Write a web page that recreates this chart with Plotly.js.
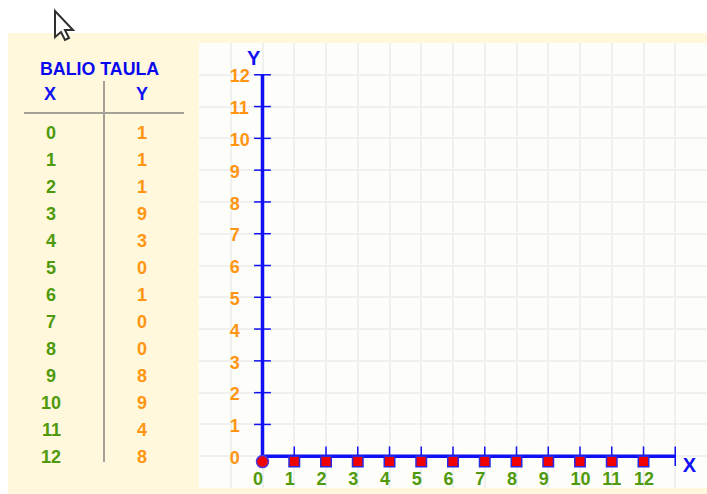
<!DOCTYPE html>
<html><head><meta charset="utf-8">
<script src="https://cdn.plot.ly/plotly-3.0.1.min.js"></script>
<style>html,body{margin:0;padding:0;background:#fff}#c{width:707px;height:494px}</style>
</head><body><div id="c"></div>
<script>
const tableTitle = "BALIO TAULA";
const tableX = [0,1,2,3,4,5,6,7,8,9,10,11,12];
const tableY = [1,1,1,9,3,0,1,0,0,8,9,4,8];
const xTicks = [0,1,2,3,4,5,6,7,8,9,10,11,12];
const yTicks = [0,1,2,3,4,5,6,7,8,9,10,11,12];
const pointSquareX = [1,2,3,4,5,6,7,8,9,10,11,12];
const pointSquareY = [-0.17,-0.17,-0.17,-0.17,-0.17,-0.17,-0.17,-0.17,-0.17,-0.17,-0.17,-0.17];
const pointRoundX = [0];
const pointRoundY = [-0.17];
const axisEndX = 13;
const axisEndY = 12;

const W = 707, H = 494;
const BLUE = "#1010f5", GREEN = "#4f9a0c", ORANGE = "#ff9512", GREY = "#a3a295";
const FONT = "Liberation Sans";
const px = v => v / W, py = v => 1 - v / H;
const note = (x, y, text, color, size) => ({
  xref: "paper", yref: "paper", x: px(x), y: py(y), text: "<b>" + text + "</b>",
  showarrow: false, xanchor: "center", yanchor: "middle",
  font: {family: FONT, size: size || 18, color}
});
const annotations = [
  note(99, 69, tableTitle, "#0808f0", 17.8),
  note(50, 94, "X", BLUE, 18),
  note(142, 94, "Y", BLUE, 18)
];
tableX.forEach((v, i) => {
  annotations.push(note(51, 133 + i * 27, String(v), GREEN, 18));
  annotations.push(note(142, 133 + i * 27, String(tableY[i]), ORANGE, 18));
});
const cursor = "M " + [[55,11],[55,37],[61,32],[65,40],[69,38],[65,30],[73,30]].map(p => px(p[0]) + " " + py(p[1])).join(" L ") + " Z";
const shapes = [
  {type:"rect", xref:"paper", yref:"paper", layer:"below", x0:0, x1:1, y0:py(33), y1:1, fillcolor:"#ffffff", line:{width:0}},
  {type:"rect", xref:"paper", yref:"paper", layer:"below", x0:0, x1:px(8), y0:0, y1:1, fillcolor:"#ffffff", line:{width:0}},
  {type:"line", xref:"paper", yref:"paper", x0:px(24), x1:px(184), y0:py(113), y1:py(113), line:{color:GREY, width:2}},
  {type:"line", xref:"paper", yref:"paper", x0:px(104), x1:px(104), y0:py(81), y1:py(462), line:{color:GREY, width:2}},
  {type:"path", xref:"paper", yref:"paper", path:cursor, fillcolor:"#ffffff", line:{color:"#303030", width:2}}
];
const data = [
  {x:[0, axisEndX], y:[0, 0], mode:"lines", line:{color:BLUE, width:3.5}, hoverinfo:"skip"},
  {x:[0, 0], y:[0, axisEndY], mode:"lines", line:{color:BLUE, width:3.5}, hoverinfo:"skip"},
  {x:yTicks.slice(1).map(() => 0), y:yTicks.slice(1), mode:"markers",
   marker:{symbol:"line-ew", size:12, line:{color:BLUE, width:1.5}}, hoverinfo:"skip"},
  {x:xTicks.slice(1).concat([axisEndX]), y:xTicks.slice(1).map(() => 0).concat([0]), mode:"markers",
   marker:{symbol:"line-ns", size:14, line:{color:BLUE, width:1.5}}, hoverinfo:"skip"},
  {x:pointSquareX, y:pointSquareY, mode:"markers",
   marker:{symbol:"square", size:10.5, color:"#f00000", line:{color:"#2a2ae0", width:1.5}}},
  {x:pointRoundX, y:pointRoundY, mode:"markers",
   marker:{symbol:"circle", size:12, color:"#f00000", line:{color:"#4a3ae0", width:1.5}}},
  {x:yTicks.map(() => -1.03), y:yTicks.map(v => v - 0.1), mode:"text", text:yTicks.map(v => "<b>" + v + "</b>"), textposition:"middle right",
   textfont:{family:FONT, size:18, color:ORANGE}, hoverinfo:"skip"},
  {x:xTicks.map(v => v - 0.3), y:xTicks.map(() => -0.75), mode:"text", text:xTicks.map(v => "<b>" + v + "</b>"), textposition:"middle right",
   textfont:{family:FONT, size:18, color:GREEN}, hoverinfo:"skip"},
  {x:[-0.28], y:[12.45], mode:"text", text:["<b>Y</b>"], textposition:"middle center",
   textfont:{family:FONT, size:20, color:BLUE}, hoverinfo:"skip"},
  {x:[13.45], y:[-0.35], mode:"text", text:["<b>X</b>"], textposition:"middle center",
   textfont:{family:FONT, size:20, color:BLUE}, hoverinfo:"skip"}
];
const axisBase = {dtick:1, tick0:0, showticklabels:false, ticks:"", zeroline:false, showline:false,
  gridcolor:"#f0f0ee", gridwidth:2, fixedrange:true};
const layout = {
  width:W, height:H, margin:{l:0, r:0, t:0, b:0}, showlegend:false,
  paper_bgcolor:"#fff8dc", plot_bgcolor:"#fdfdfa",
  xaxis:Object.assign({}, axisBase, {range:[-2, 14], domain:[px(199), 1]}),
  yaxis:Object.assign({}, axisBase, {range:[-1, 13], domain:[py(488), py(43)]}),
  annotations, shapes
};
Plotly.newPlot("c", data, layout, {displayModeBar:false, staticPlot:true});
</script></body></html>
